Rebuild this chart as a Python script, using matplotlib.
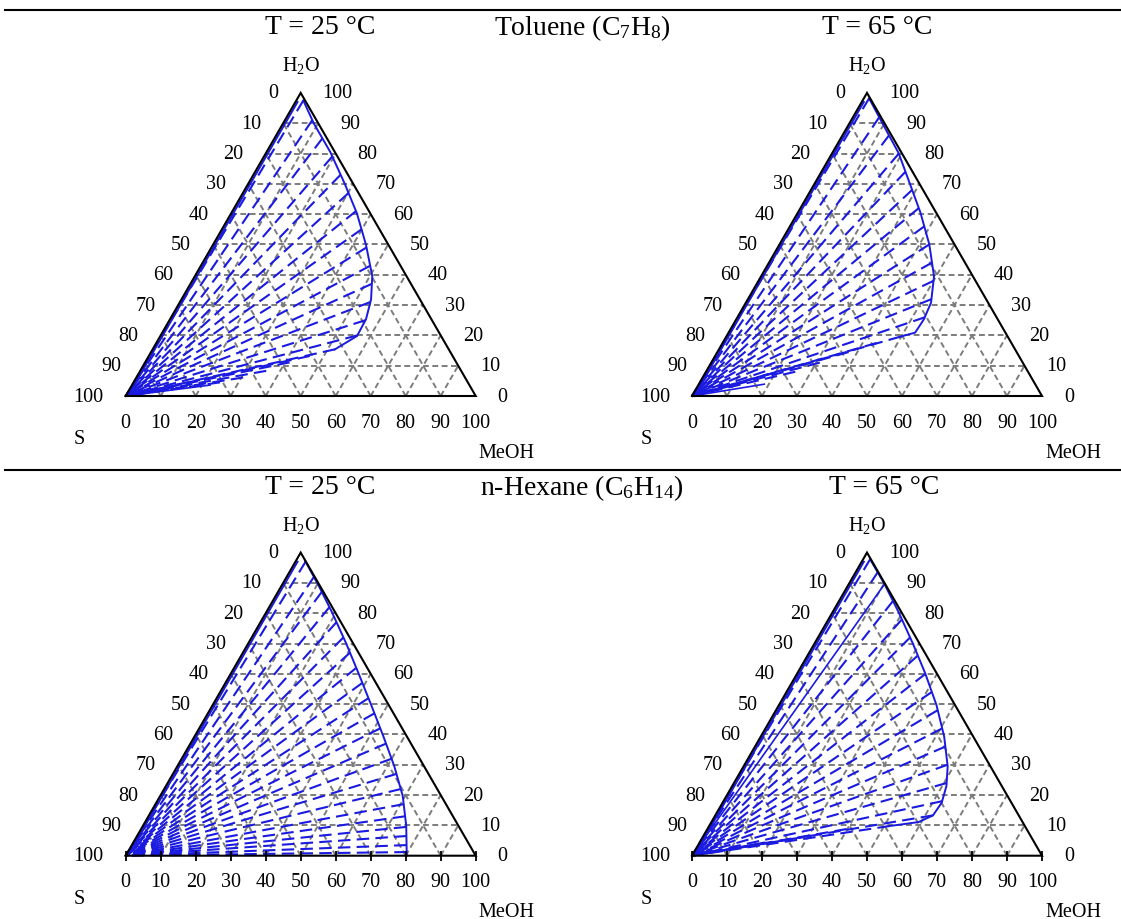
import numpy as np
import matplotlib.pyplot as plt
from matplotlib.lines import Line2D

plt.rcParams['font.family'] = ['Liberation Serif', 'DejaVu Serif']
plt.rcParams['mathtext.fontset'] = 'custom'
plt.rcParams['mathtext.rm'] = 'Liberation Serif'

# ---- data (mass %) ----
ticks = [0, 10, 20, 30, 40, 50, 60, 70, 80, 90, 100]

# Toluene, 25 C
tol25_bin_h2o = [97.5, 89.8, 80.5, 70.1, 60.3, 49.9, 39.5, 31.8, 25.3, 19.8, 15.4]
tol25_bin_meoh = [2.0, 8.9, 18.2, 27.5, 35.9, 43.7, 50.7, 54.2, 56.0, 56.2, 52.1]
tol25_tie_h2o = [97.5, 91, 85, 79, 73, 67, 61, 55, 49, 43, 37, 31, 25, 20, 15.4,
                 13.2, 11.1, 8.3, 6.1, 4.5]
tol25_tie_meoh = [2.0, 7.8, 13.7, 19.5, 24.9, 30.2, 35.3, 39.9, 44.3, 48.4, 51.8,
                  54.4, 56.0, 56.2, 52.1, 46.0, 41.3, 36.0, 30.5, 24.7]
tol25_solid_h2o = [3.6]
tol25_solid_meoh = [22.3]

# Toluene, 65 C
tol65_bin_h2o = [98.2, 89.9, 80.1, 70.2, 60.4, 50.0, 39.5, 30.8, 25.3, 20.9, 19.6]
tol65_bin_meoh = [1.5, 9.5, 19.0, 27.1, 35.1, 42.8, 49.4, 52.9, 53.6, 53.3, 49.8]
tol65_tie_h2o = [98.2, 92, 86, 80, 74, 68, 62, 56, 50, 44, 38, 32, 26, 19.6,
                 17.5, 14.5, 11, 8]
tol65_tie_meoh = [1.5, 7.5, 13.3, 19.1, 24.0, 28.9, 33.8, 38.4, 42.8, 46.6, 50.0,
                  52.5, 53.6, 49.8, 44.0, 37.5, 31.0, 25.5]
tol65_solid_h2o = [3.9]
tol65_solid_meoh = [18.7]

# n-Hexane, 25 C
hex25_bin_h2o = [97.3, 89.6, 80.3, 70.0, 60.1, 49.7, 39.3, 29.5, 19.7, 9.9, 0.0]
hex25_bin_meoh = [2.6, 10.1, 18.8, 28.0, 36.5, 45.3, 54.0, 62.0, 69.3, 75.2, 80.3]
hex25_tie_h2o = [97, 92, 87, 82, 77, 72, 67, 62, 57, 52, 47, 42, 37, 32, 27, 22,
                 17, 13, 9.5, 6.5, 3.5, 1.2]
hex25_tie_meoh = [2.9, 7.8, 12.5, 17.2, 21.7, 26.2, 30.6, 34.9, 39.1, 43.4, 47.6,
                  51.7, 55.9, 60.0, 63.9, 67.6, 70.9, 73.3, 75.4, 77.0, 78.5, 79.7]
hex25_solid_h2o = []
hex25_solid_meoh = []

# n-Hexane, 65 C
hex65_bin_h2o = [97.8, 89.6, 80.3, 70.0, 60.1, 49.7, 39.3, 29.5, 23.0, 17.5, 13.3,
                 11.1, 9.8]
hex65_bin_meoh = [2.0, 10.2, 18.9, 28.1, 36.6, 45.0, 52.4, 58.3, 61.2, 62.6, 62.2,
                  59.2, 51.6]
hex65_tie_h2o = [97.8, 93.5, 84, 78, 72, 66, 60, 54, 48, 42, 36, 30, 24, 18, 13.3,
                 9.8, 8.8, 6.6]
hex65_tie_meoh = [2.0, 6.3, 15.4, 21.0, 26.3, 31.5, 36.7, 41.5, 46.2, 50.5, 54.4,
                  58.0, 60.8, 62.5, 62.2, 51.6, 39.8, 30.7]
hex65_solid_h2o = [89.6, 4.4]
hex65_solid_meoh = [10.2, 18.5]

# S-rich branch along the left edge
sbranch_h2o = [0, 97]
sbranch_meoh = [0.6, 0.6]

# ---- styling / layout ----
FIG_W, FIG_H = 1121, 920
PX = 3.5                      # pixels per % along the triangle side
XL, YL = (-25, 118), (-20, 100)
BLUE = '#1a1ae0'
GREY = '#7c7c7c'
SQ = np.sqrt(3) / 2
TICK_FS = 14.5
TITLE_FS = 20


def tern(h2o, meoh):
    h = np.asarray(h2o, float)
    m = np.asarray(meoh, float)
    return m + h / 2, h * SQ


def make_axes(fig, sx, sy):
    left = (sx + XL[0] * PX) / FIG_W
    bottom = 1 - (sy - YL[0] * PX) / FIG_H
    w = (XL[1] - XL[0]) * PX / FIG_W
    h = (YL[1] - YL[0]) * PX / FIG_H
    ax = fig.add_axes([left, bottom, w, h])
    ax.set_xlim(XL)
    ax.set_ylim(YL)
    ax.axis('off')
    return ax


def draw_panel(ax, bin_h, bin_m, tie_h, tie_m, sol_h, sol_m, bottom_ticks):
    # grid
    for k in ticks[1:-1]:
        for hh, mm in [((k, k), (0, 100 - k)),
                       ((0, 100 - k), (k, k)),
                       ((0, 100 - k), (100 - k, 0))]:
            x, y = tern(hh, mm)
            ax.plot(x, y, color=GREY, lw=1.4, dashes=(3, 1.8), zorder=1)

    # S-rich branch
    x, y = tern(sbranch_h2o, sbranch_meoh)
    ax.plot(x, y, color=BLUE, lw=1.4, zorder=2)

    # tie lines, drawn from the water-rich end towards the S corner
    for h, m in zip(tie_h, tie_m):
        x, y = tern([h, 0], [m, 0])
        ax.plot(x, y, color=BLUE, lw=1.5, dashes=(6, 3), zorder=2)
    for h, m in zip(sol_h, sol_m):
        x, y = tern([0, h], [0, m])
        ax.plot(x, y, color=BLUE, lw=1.2, zorder=2)

    # binodal
    x, y = tern(bin_h, bin_m)
    ax.plot(x, y, color=BLUE, lw=1.4, zorder=3)

    # triangle
    x, y = tern([0, 100, 0, 0], [0, 0, 100, 0])
    ax.plot(x, y, color='black', lw=1.5, zorder=4, solid_joinstyle='miter')

    if bottom_ticks:
        x, y = tern(np.zeros(len(ticks)), ticks)
        ax.plot(x, y, ls='none', marker='|', ms=7, mew=1.3, color='black', zorder=4)

    kw = dict(textcoords='offset pixels', fontsize=TICK_FS, va='center')
    for t in ticks:
        # left side: S
        x, y = tern(100 - t, 0)
        ax.annotate(str(t), (x, y), xytext=(-22, 0), ha='right', **kw)
        # right side: H2O
        x, y = tern(t, 100 - t)
        ax.annotate(str(t), (x, y), xytext=(22, 0), ha='left', **kw)
        # bottom: MeOH
        x, y = tern(0, t)
        ax.annotate(str(t), (x, y), xytext=(0, -26), ha='center', **kw)

    x, y = tern(100, 0)
    ax.annotate(r'H$\mathregular{_2}$O', (x, y), xytext=(0, 28), ha='center', **kw)
    x, y = tern(0, 0)
    ax.annotate('S', (x, y), xytext=(-46, -43), ha='center', **kw)
    x, y = tern(0, 100)
    ax.annotate('MeOH', (x, y), xytext=(31, -56), ha='center', **kw)


fig = plt.figure(figsize=(FIG_W / 100, FIG_H / 100), dpi=100)

panels = [
    (125.7, 397, tol25_bin_h2o, tol25_bin_meoh, tol25_tie_h2o, tol25_tie_meoh,
     tol25_solid_h2o, tol25_solid_meoh, False),
    (692.0, 397, tol65_bin_h2o, tol65_bin_meoh, tol65_tie_h2o, tol65_tie_meoh,
     tol65_solid_h2o, tol65_solid_meoh, False),
    (125.7, 856.7, hex25_bin_h2o, hex25_bin_meoh, hex25_tie_h2o, hex25_tie_meoh,
     hex25_solid_h2o, hex25_solid_meoh, True),
    (692.0, 856.7, hex65_bin_h2o, hex65_bin_meoh, hex65_tie_h2o, hex65_tie_meoh,
     hex65_solid_h2o, hex65_solid_meoh, True),
]
for sx, sy, *rest in panels:
    ax = make_axes(fig, sx, sy)
    draw_panel(ax, *rest)

# row titles and rules
titles = [
    (320, 28, 'T = 25 °C'), (582, 28, r'Toluene (C$\mathregular{_7}$H$\mathregular{_8}$)'),
    (877, 28, 'T = 65 °C'),
    (320, 488, 'T = 25 °C'), (582, 488, r'n-Hexane (C$\mathregular{_6}$H$\mathregular{_{14}}$)'),
    (884, 488, 'T = 65 °C'),
]
for x, y, s in titles:
    fig.text(x / FIG_W, 1 - y / FIG_H, s, fontsize=TITLE_FS, ha='center', va='center')

for y in (11, 471):
    fig.add_artist(Line2D([5 / FIG_W, 1], [1 - y / FIG_H] * 2, color='black', lw=1.5,
                          transform=fig.transFigure))

fig.savefig('out.png', dpi=100)
